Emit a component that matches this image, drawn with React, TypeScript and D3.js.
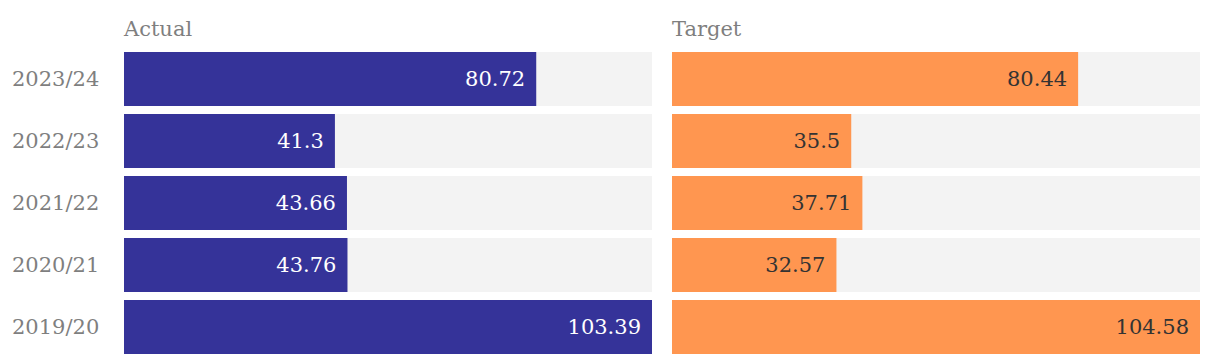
import React from "react"
import * as d3 from "d3"

const years = ["2023/24", "2022/23", "2021/22", "2020/21", "2019/20"]
const actualValues = [80.72, 41.3, 43.66, 43.76, 103.39]
const targetValues = [80.44, 35.5, 37.71, 32.57, 104.58]
const panelTitles = ["Actual", "Target"]

const W = 1220
const H = 364
const FONT = "'DejaVu Serif', serif"

export default function App() {
  const panelW = 528
  const panels = [
    { title: panelTitles[0], x0: 124, values: actualValues, fill: "#353399", text: "#ffffff" },
    { title: panelTitles[1], x0: 672, values: targetValues, fill: "#ff9650", text: "#333333" },
  ]

  // 5 rows, 62px pitch, 54px bars
  const y = d3.scaleBand().domain(years).range([52, 354]).paddingInner(8 / 62).paddingOuter(0)

  return (
    <svg width={W} height={H} style={{ position: "absolute", left: 0, top: 0 }} fontFamily={FONT}>
      {years.map(yr => (
        <text key={yr} x={12} y={(y(yr) || 0) + y.bandwidth() / 2} dy="0.35em" fontSize={21} fill="#7f7f7f">
          {yr}
        </text>
      ))}
      {panels.map(p => {
        const x = d3.scaleLinear().domain([0, d3.max(p.values) || 0]).range([0, panelW])
        return (
          <g key={p.title} transform={`translate(${p.x0},0)`}>
            <text x={0} y={36} fontSize={21} fill="#7f7f7f">{p.title}</text>
            {years.map((yr, i) => {
              const yy = y(yr) || 0
              const w = x(p.values[i])
              return (
                <g key={yr}>
                  <rect x={0} y={yy} width={panelW} height={y.bandwidth()} fill="#f3f3f3" />
                  <rect x={0} y={yy} width={w} height={y.bandwidth()} fill={p.fill} />
                  <text x={w - 11} y={yy + y.bandwidth() / 2} dy="0.35em" textAnchor="end" fontSize={21} fill={p.text}>
                    {p.values[i]}
                  </text>
                </g>
              )
            })}
          </g>
        )
      })}
    </svg>
  )
}
